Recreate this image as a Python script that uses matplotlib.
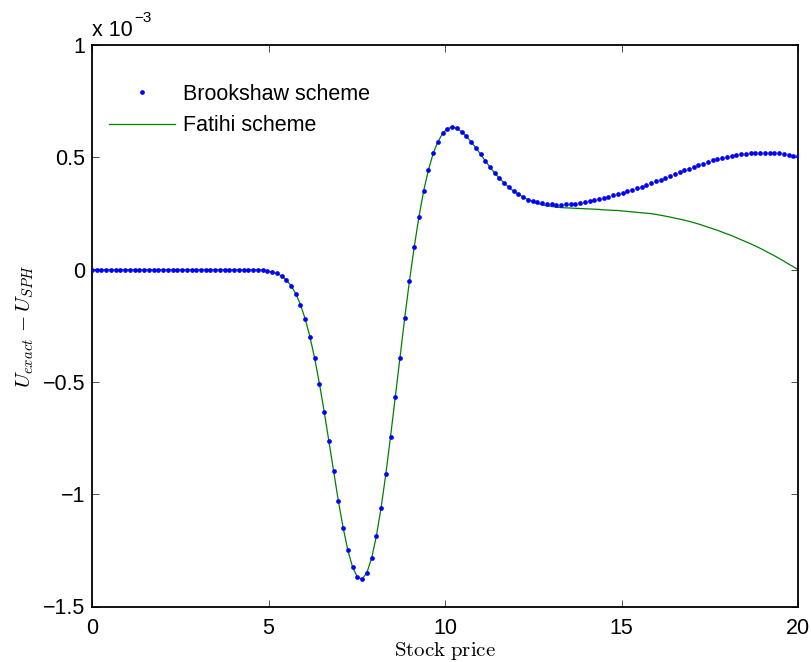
import numpy as np
import matplotlib
matplotlib.use("Agg")
import matplotlib.pyplot as plt
from matplotlib.ticker import FuncFormatter

# ---- data (values in units of 1e-3) ----
x_min, x_max = 0.0, 20.0
brookshaw = [0.0] * 35 + [
    -0.001, -0.003, -0.006,
    -0.012, -0.017, -0.028, -0.046, -0.071, -0.107, -0.156, -0.220, -0.300, -0.395,
    -0.508, -0.632, -0.765, -0.898, -1.031, -1.149, -1.250, -1.325, -1.369, -1.378,
    -1.350, -1.286, -1.188, -1.062, -0.912, -0.745, -0.569, -0.392, -0.215, -0.050,
    0.100, 0.235, 0.351, 0.443, 0.517, 0.569, 0.606, 0.627, 0.635, 0.629,
    0.614, 0.593, 0.569, 0.542, 0.514, 0.484, 0.456, 0.430, 0.406, 0.385,
    0.366, 0.349, 0.336, 0.323, 0.312, 0.305, 0.299, 0.295, 0.292, 0.290,
    0.289, 0.289, 0.290, 0.291, 0.294, 0.297, 0.301, 0.305, 0.309, 0.313,
    0.319, 0.324, 0.330, 0.336, 0.342, 0.348, 0.355, 0.362, 0.369, 0.376,
    0.385, 0.393, 0.401, 0.410, 0.418, 0.426, 0.434, 0.442, 0.450, 0.458,
    0.465, 0.472, 0.479, 0.486, 0.492, 0.497, 0.502, 0.507, 0.510, 0.513,
    0.516, 0.518, 0.519, 0.520, 0.520, 0.520, 0.519, 0.517, 0.514, 0.511,
    0.508, 0.504,
]
fatihi_tail = [
    0.303, 0.295, 0.289, 0.284, 0.281, 0.278, 0.276, 0.275, 0.274, 0.273,
    0.272, 0.271, 0.270, 0.269, 0.268, 0.266, 0.265, 0.264, 0.263, 0.261,
    0.259, 0.257, 0.255, 0.253, 0.251, 0.249, 0.246, 0.242, 0.238, 0.234,
    0.229, 0.225, 0.220, 0.215, 0.209, 0.203, 0.196, 0.189, 0.182, 0.175,
    0.167, 0.159, 0.151, 0.142, 0.133, 0.124, 0.115, 0.105, 0.095, 0.084,
    0.073, 0.062, 0.050, 0.038, 0.025, 0.013, 0.000,
]
n_shared = len(brookshaw) - len(fatihi_tail)
fatihi = brookshaw[:n_shared] + fatihi_tail
x = np.linspace(x_min, x_max, len(brookshaw))

x_ticks = [0, 5, 10, 15, 20]
y_ticks = [-1.5, -1, -0.5, 0, 0.5, 1]
labels = ["Brookshaw scheme", "Fatihi scheme"]

# ---- figure ----
plt.rcParams["font.family"] = ["Liberation Sans", "DejaVu Sans"]
fig = plt.figure(figsize=(8.12, 6.62), dpi=100)
ax = fig.add_axes([92 / 812, 1 - 606.5 / 662, (798 - 92) / 812, (606.5 - 45) / 662])

ax.plot(x, brookshaw, linestyle="none", marker="o", markersize=3.4,
        markerfacecolor="#0000ff", markeredgecolor="#0000ff", markeredgewidth=0,
        label=labels[0], zorder=3)
ax.plot(x, fatihi, color="#008000", linewidth=0.9, label=labels[1], zorder=2)

ax.set_xlim(x_min, x_max)
ax.set_ylim(-1.5, 1.0)
ax.set_xticks(x_ticks)
ax.set_yticks(y_ticks)
fmt = FuncFormatter(lambda v, p: ("%g" % v).replace("-", "\u2212"))
ax.xaxis.set_major_formatter(fmt)
ax.yaxis.set_major_formatter(fmt)
ax.tick_params(direction="in", length=5, width=0.6, labelsize=15.5,
               top=True, right=True, color="#333333")
ax.tick_params(axis="x", pad=8)
ax.tick_params(axis="y", pad=5)
for s in ax.spines.values():
    s.set_linewidth(1.3)

ax.set_xlabel(r"$\mathrm{Stock\ price}$", fontsize=15, math_fontfamily="cm", labelpad=1)
ax.set_ylabel(r"$U_{exact}\,-U_{SPH}$", fontsize=15, math_fontfamily="cm", labelpad=5)

fig.text(92 / 812, 1 - 36 / 662, "x 10", fontsize=15.5, ha="left", va="baseline")
fig.text(134 / 812, 1 - 22 / 662, "\u22123", fontsize=11, ha="left", va="baseline")

leg = ax.legend(loc="upper left", bbox_to_anchor=(0.012, 0.946), frameon=False,
                fontsize=15.5, handlelength=3.07, handletextpad=0.37, labelspacing=0.49,
                numpoints=1, borderaxespad=0)
leg.legend_handles[0].set_markersize(3.4)

fig.savefig("out.png", dpi=100)
